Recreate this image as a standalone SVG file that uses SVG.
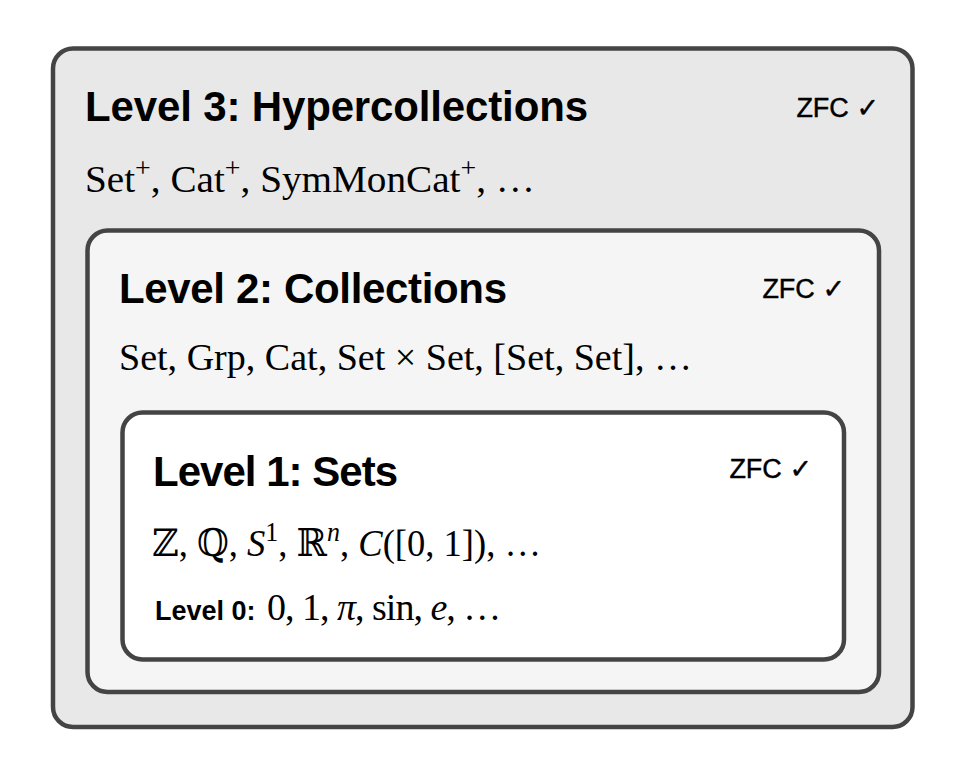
<svg xmlns="http://www.w3.org/2000/svg" width="974" height="776" viewBox="0 0 974 776">
<style>
  .box { stroke: #444444; stroke-width: 4.5; }
  .title { font-family: "Liberation Sans", Arial, Helvetica, sans-serif; font-weight: bold; font-size: 42px; fill: #000; }
  .zfc { font-family: "Liberation Sans", "DejaVu Sans", Arial, sans-serif; font-size: 27px; fill: #000; text-anchor: end; stroke: #000; stroke-width: 0.4; }
  .chk { font-family: "DejaVu Sans", sans-serif; }
  .math { font-family: "Liberation Serif", "Times New Roman", serif; font-size: 38px; fill: #000; }
  .sup { font-size: 27px; }
  .it { font-style: italic; }
  .bb { font-family: "DejaVu Serif", "DejaVu Sans", serif; }
  .lvl0 { font-family: "Liberation Sans", Arial, Helvetica, sans-serif; font-weight: bold; font-size: 27px; fill: #000; }
  .m0 { letter-spacing: -1px; }
</style>
<rect width="974" height="776" fill="#ffffff"/>
<g id="level3">
  <rect class="box" x="53" y="48.5" width="859.5" height="678.5" rx="20" fill="#e8e8e8"/>
  <text class="title" x="85" y="121" textLength="503" lengthAdjust="spacing">Level 3: Hypercollections</text>
  <text class="zfc" x="879" y="116.5">ZFC <tspan class="chk">✓</tspan></text>
  <text class="math" x="85" y="192" textLength="450" lengthAdjust="spacingAndGlyphs">Set<tspan class="sup" dy="-15">+</tspan><tspan dy="15">, Cat</tspan><tspan class="sup" dy="-15">+</tspan><tspan dy="15">, SymMonCat</tspan><tspan class="sup" dy="-15">+</tspan><tspan dy="15">, …</tspan></text>
</g>
<g id="level2">
  <rect class="box" x="87.5" y="230.5" width="791.5" height="461.5" rx="20" fill="#f5f5f5"/>
  <text class="title" x="119" y="303" textLength="388" lengthAdjust="spacing">Level 2: Collections</text>
  <text class="zfc" x="845" y="298.3">ZFC <tspan class="chk">✓</tspan></text>
  <text class="math" x="119" y="370" textLength="573" lengthAdjust="spacingAndGlyphs">Set, Grp, Cat, Set × Set, [Set, Set], …</text>
</g>
<g id="level1">
  <rect class="box" x="122.5" y="412.5" width="721.5" height="247" rx="20" fill="#ffffff"/>
  <text class="title" x="153" y="486" textLength="245" lengthAdjust="spacing">Level 1: Sets</text>
  <text class="zfc" x="812" y="478">ZFC <tspan class="chk">✓</tspan></text>
  <text class="math" x="152" y="556" textLength="389" lengthAdjust="spacingAndGlyphs"><tspan class="bb">ℤ</tspan>, <tspan class="bb">ℚ</tspan>, <tspan class="it">S</tspan><tspan class="sup" dy="-15">1</tspan><tspan dy="15">, </tspan><tspan class="bb">ℝ</tspan><tspan class="sup it" dy="-15">n</tspan><tspan dy="15">, </tspan><tspan class="it">C</tspan>([0, 1]), …</text>
</g>
<g id="level0">
  <text x="155" y="620"><tspan class="lvl0">Level 0:</tspan><tspan class="math m0" x="267">0, 1, <tspan class="it">π</tspan>, sin, <tspan class="it">e</tspan>, …</tspan></text>
</g>
<g id="connectors"/>
</svg>
